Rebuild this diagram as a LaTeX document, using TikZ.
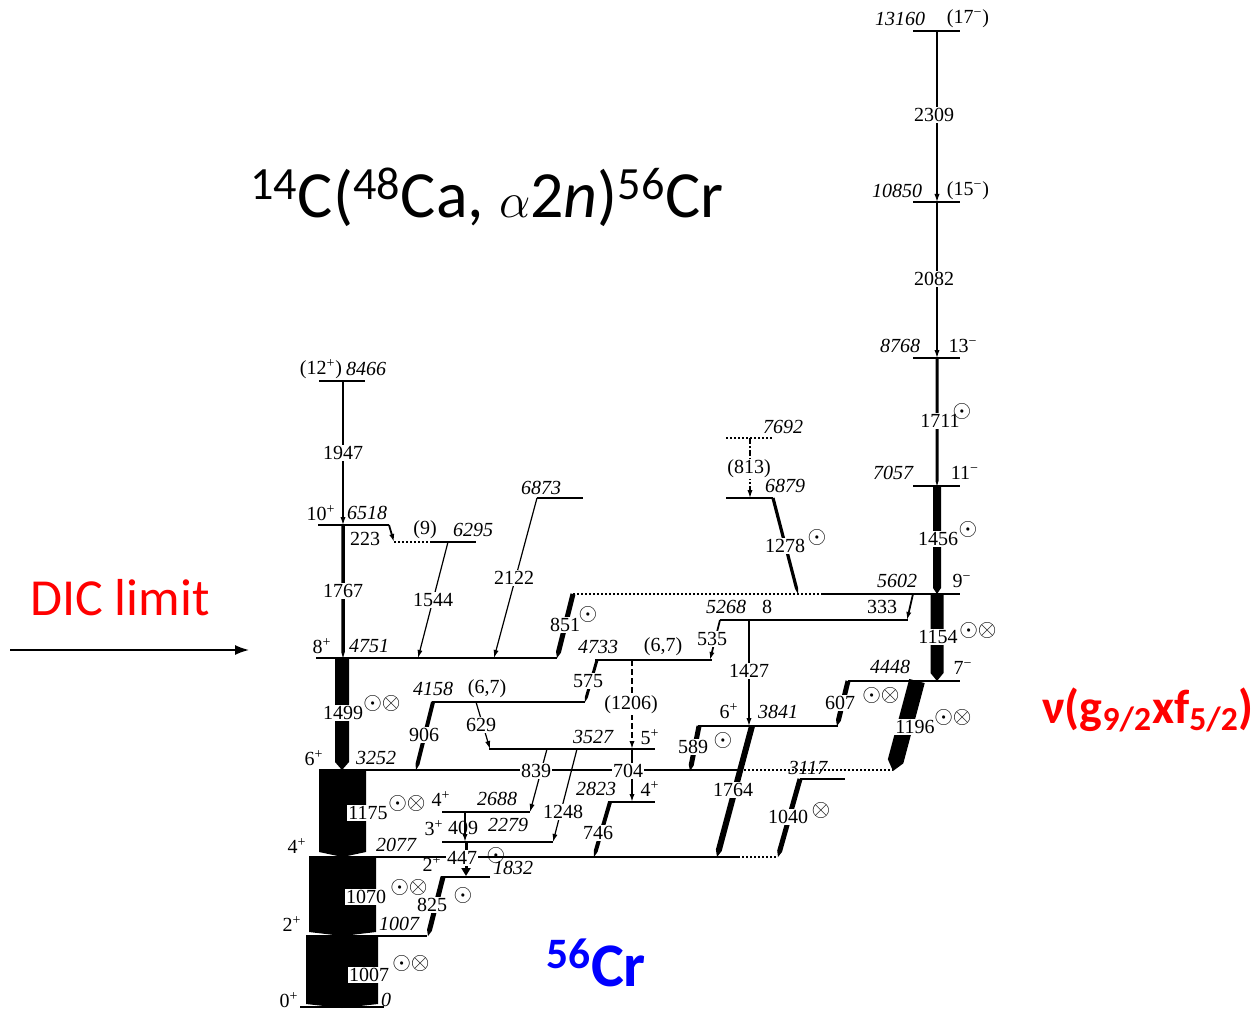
\documentclass[tikz,border=0pt]{standalone}
\usepackage{fontspec}
\setmainfont{Liberation Serif}
\newfontfamily\carl{Carlito}
\usetikzlibrary{calc,arrows.meta}
\newcommand\symO{$\odot$}
\newcommand\symX{$\otimes$}
\newcommand\symOX{$\mathord{\odot}\mathord{\otimes}$}
\newcommand\lvl[5][]{\coordinate (#2-l) at (#3,#5); \coordinate (#2-r) at (#4,#5); \draw[lv,#1] (#2-l) -- (#2-r);}
\newcommand\tpts[5]{\coordinate (#1a) at (#2,#3); \coordinate (#1b) at (#4,#5);}
\newcommand\gbar[4]{%
  \pgfmathsetmacro\hwid{#3*0.25}%
  \pgfmathsetmacro\hlen{#4*0.5}%
  \coordinate (tmpBp) at ($(#2)!\hlen pt!(#1)$);
  \fill ($(#1)!\hwid pt!90:(#2)$) -- ($(tmpBp)!\hwid pt!-90:(#1)$) -- (#2) -- ($(tmpBp)!\hwid pt!90:(#1)$) -- ($(#1)!\hwid pt!-90:(#2)$) -- cycle;}
\begin{document}
\begin{tikzpicture}[x=0.5pt,y=-0.5pt,
  lv/.style={line width=0.7pt},
  dotl/.style={line width=0.7pt,dash pattern=on 1pt off 1pt},
  en/.style={font=\itshape\fontsize{10}{12}\selectfont,inner sep=0.5pt},
  sp/.style={font=\fontsize{10}{12}\selectfont,inner sep=0.5pt},
  gl/.style={font=\fontsize{10}{12}\selectfont,fill=white,inner sep=0.6pt},
  sy/.style={font=\fontsize{11.5}{13}\selectfont,inner sep=0pt},
  thg/.style={line width=0.6pt,-{Latex[length=4pt,width=2.6pt]}},
  ]
\useasboundingbox (0,0) rectangle (1254,1011);
% ---------- levels
\lvl{L0}{300}{384}{1007}
\lvl{L1007}{306}{427}{936}
\lvl{L1832}{441}{490}{877}
\lvl{L2077}{309}{738}{857}
\lvl[dotl]{L2077d}{738}{778}{857}
\lvl{L2279}{442}{553}{842}
\lvl{L2688}{442}{530}{812}
\lvl{L2823}{608}{655}{802}
\lvl{L3117}{800}{845}{779}
\lvl{L3252}{319}{740}{770}
\lvl[dotl]{L3252d}{740}{893}{770}
\lvl{L3527}{489}{655}{749}
\lvl{L3841}{698}{838}{726}
\lvl{L4158}{432}{585}{702}
\lvl{L4448}{848}{960}{681}
\lvl{L4733}{595}{712}{660}
\lvl{L4751}{316}{557}{658}
\lvl{L5268}{720}{908}{620}
\lvl[dotl]{L5602d}{573}{823}{594}
\lvl{L5602}{823}{960}{594}
\lvl[dotl]{L6295d}{394}{430}{542}
\lvl{L6295}{430}{476}{542}
\lvl{L6518}{318}{389}{525}
\lvl{L6873}{537}{583}{498}
\lvl{L6879}{726}{773}{498}
\lvl[dotl]{L7692}{726}{773}{438}
\lvl{L7057}{913}{960}{486}
\lvl{L8466}{319}{365}{381}
\lvl{L8768}{913}{960}{358}
\lvl{L10850}{913}{960}{202}
\lvl{L13160}{913}{960}{31}
% ---------- transitions
\tpts{g1007}{342}{936}{342}{1008}\gbar{g1007a}{g1007b}{72}{4}
\tpts{g1070}{342.5}{857}{342.5}{936}\gbar{g1070a}{g1070b}{67}{4}
\tpts{g1175}{342.5}{770}{342.5}{857}\gbar{g1175a}{g1175b}{47}{5}
\tpts{g1499}{342}{658}{342}{770}\gbar{g1499a}{g1499b}{14}{8}
\tpts{g1767}{343}{525}{343}{658}\gbar{g1767a}{g1767b}{3.5}{6}
\tpts{g1947}{343}{381}{343}{525}\draw[thg] (g1947a) -- (g1947b);
\tpts{g223}{389}{525}{394}{542}\draw[thg,line width=0.9pt] (g223a) -- (g223b);
\tpts{g1544}{448}{542}{418}{658}\draw[thg] (g1544a) -- (g1544b);
\tpts{g2122}{537}{498}{494}{658}\draw[thg] (g2122a) -- (g2122b);
\tpts{g851}{573}{594}{557}{658}\gbar{g851a}{g851b}{5}{6}
\tpts{g906}{433}{702}{416}{770}\gbar{g906a}{g906b}{4}{6}
\tpts{g575}{597}{660}{585}{702}\gbar{g575a}{g575b}{3}{5}
\tpts{g629}{476}{702}{490}{749}\draw[thg] (g629a) -- (g629b);
\tpts{g1206}{632}{660}{632}{749}\draw[thg,line width=1.1pt,dash pattern=on 3pt off 1.5pt] (g1206a) -- (g1206b);
\tpts{g839}{547}{749}{530}{812}\draw[thg] (g839a) -- (g839b);
\tpts{g1248}{577}{749}{553}{842}\draw[thg] (g1248a) -- (g1248b);
\tpts{g704}{632}{749}{632}{802}\draw[thg,line width=1pt] (g704a) -- (g704b);
\tpts{g746}{610}{802}{594}{857}\gbar{g746a}{g746b}{4}{6}
\tpts{g409}{465}{812}{465}{842}\draw[thg,line width=0.9pt] (g409a) -- (g409b);
\tpts{g447}{466}{842}{466}{876}\draw[line width=1.5pt,-{Triangle[length=4pt,width=4.5pt]}] (g447a) -- (g447b);
\tpts{g825}{443}{877}{428}{936}\gbar{g825a}{g825b}{5}{6}
\tpts{g1427}{749}{620}{749}{726}\draw[thg] (g1427a) -- (g1427b);
\tpts{g535}{720}{620}{710}{660}\draw[thg,line width=0.9pt] (g535a) -- (g535b);
\tpts{g333}{913}{594}{907}{620}\draw[thg,line width=0.9pt] (g333a) -- (g333b);
\tpts{g1278}{773}{498}{798}{594}\gbar{g1278a}{g1278b}{3.2}{6}
\tpts{g813}{750}{438}{750}{498}\draw[thg,dash pattern=on 3pt off 1.2pt on 0.6pt off 1.2pt] (g813a) -- (g813b);
\tpts{g589}{699}{726}{690}{771}\gbar{g589a}{g589b}{5}{6}
\tpts{g1764}{752}{726}{717}{857}\gbar{g1764a}{g1764b}{6}{7}
\tpts{g607}{848}{681}{837}{726}\gbar{g607a}{g607b}{5}{6}
\tpts{g1196}{917}{681}{893}{771}\gbar{g1196a}{g1196b}{16}{10}
\tpts{g1040}{800}{779}{778}{857}\gbar{g1040a}{g1040b}{5}{6}
\tpts{g1154}{937}{594}{937}{681}\gbar{g1154a}{g1154b}{13}{8}
\tpts{g1456}{937}{486}{937}{594}\gbar{g1456a}{g1456b}{8}{6}
\tpts{g1711}{937}{358}{937}{486}\gbar{g1711a}{g1711b}{3}{5}
\tpts{g2082}{937}{202}{937}{358}\draw[thg] (g2082a) -- (g2082b);
\tpts{g2309}{937}{31}{937}{202}\draw[thg] (g2309a) -- (g2309b);
% ---------- left column labels
\node[sp] (s8466) at (321,369) {(12\textsuperscript{+})};
\node[en] (e8466) at (366,369) {8466};
\node[gl] (t1947) at (343,453) {1947};
\node[sp] (s6518) at (321,513) {10\textsuperscript{+}};
\node[en] (e6518) at (367,513) {6518};
\node[sp] (t223) at (365,539) {223};
\node[sp] (s6295) at (425,530) {(9)};
\node[en] (e6295) at (473,530) {6295};
\node[en] (e6873) at (541,488) {6873};
\node[gl] (t1767) at (343,591) {1767};
\node[gl] (t1544) at (433,600) {1544};
\node[gl] (t2122) at (514,578) {2122};
\node[gl] (t851) at (565,625) {851};
\node[sy] (p851) at (588,614) {\symO};
\node[sp] (s4751) at (322,646) {8\textsuperscript{+}};
\node[en] (e4751) at (369,646) {4751};
\node[gl] (t1499) at (343,713) {1499};
\node[sy] (p1499) at (382,703) {\symOX};
\node[en] (e4158) at (433,689) {4158};
\node[sp] (s4158) at (487,689) {(6,7)};
\node[gl] (t906) at (424,735) {906};
\node[gl] (t629) at (481,725) {629};
\node[gl] (t575) at (588,681) {575};
\node[en] (e4733) at (598,647) {4733};
\node[sp] (s4733) at (663,647) {(6,7)};
\node[gl] (t1206) at (631,705) {(1206)};
\node[en] (e3527) at (593,737) {3527};
\node[sp] (s3527) at (650,737) {5\textsuperscript{+}};
\node[gl] (t839) at (536,771) {839};
\node[gl] (t704) at (628,771) {704};
\node[en] (e2823) at (596,789) {2823};
\node[sp] (s2823) at (650,789) {4\textsuperscript{+}};
\node[gl] (t1248) at (563,812) {1248};
\node[gl] (t746) at (598,833) {746};
\node[sp] (s3252) at (314,758) {6\textsuperscript{+}};
\node[en] (e3252) at (376,758) {3252};
\node[gl] (t1175) at (368,813) {1175};
\node[sy] (p1175) at (407,803) {\symOX};
\node[sp] (s2688) at (441,799) {4\textsuperscript{+}};
\node[en] (e2688) at (497,799) {2688};
\node[sp] (s2279) at (434,828) {3\textsuperscript{+}};
\node[sp] (t409) at (463,828) {409};
\node[en] (e2279) at (508,825) {2279};
\node[sp] (s1832) at (432,864) {2\textsuperscript{+}};
\node[gl] (t447) at (462,858) {447};
\node[sy] (p447) at (496,855) {\symO};
\node[en] (e1832) at (513,868) {1832};
\node[sp] (s2077) at (297,846) {4\textsuperscript{+}};
\node[en] (e2077) at (396,845) {2077};
\node[gl] (t1070) at (366,897) {1070};
\node[sy] (p1070) at (409,887) {\symOX};
\node[gl] (t825) at (432,905) {825};
\node[sy] (p825) at (463,895) {\symO};
\node[sp] (s1007) at (292,924) {2\textsuperscript{+}};
\node[en] (e1007) at (399,924) {1007};
\node[gl] (t1007) at (369,975) {1007};
\node[sy] (p1007) at (411,963) {\symOX};
\node[sp] (s0) at (289,1000) {0\textsuperscript{+}};
\node[en] (e0) at (386,1000) {0};
% ---------- right part labels
\node[en] (e7692) at (783,427) {7692};
\node[gl] (t813) at (749,469) {(813)};
\node[en] (e6879) at (785,486) {6879};
\node[gl] (t1278) at (785,546) {1278};
\node[sy] (p1278) at (817,537) {\symO};
\node[en] (e5268) at (726,607) {5268};
\node[sp] (s5268) at (767,607) {8};
\node[gl] (t535) at (712,639) {535};
\node[gl] (t1427) at (749,671) {1427};
\node[sp] (t333) at (882,607) {333};
\node[en] (e5602) at (897,581) {5602};
\node[sp] (s5602) at (962,581) {9\textsuperscript{−}};
\node[sp] (s3841) at (729,711) {6\textsuperscript{+}};
\node[en] (e3841) at (778,712) {3841};
\node[gl] (t589) at (693,747) {589};
\node[sy] (p589) at (723,740) {\symO};
\node[gl] (t1764) at (733,790) {1764};
\node[en] (e3117) at (808,768) {3117};
\node[gl] (t1040) at (788,817) {1040};
\node[sy] (p1040) at (821,810) {\symX};
\node[en] (e4448) at (890,667) {4448};
\node[sp] (s4448) at (963,668) {7\textsuperscript{−}};
\node[gl] (t607) at (840,703) {607};
\node[sy] (p607) at (881,695) {\symOX};
\node[gl] (t1196) at (915,727) {1196};
\node[sy] (p1196) at (953,717) {\symOX};
\node[gl] (t1154) at (938,637) {1154};
\node[sy] (p1154) at (978,630) {\symOX};
\node[gl] (t1456) at (938,539) {1456};
\node[sy] (p1456) at (968,529) {\symO};
\node[en] (e7057) at (893,473) {7057};
\node[sp] (s7057) at (965,473) {11\textsuperscript{−}};
\node[gl] (t1711) at (940,421) {1711};
\node[sy] (p1711) at (962,411) {\symO};
\node[en] (e8768) at (900,346) {8768};
\node[sp] (s8768) at (963,346) {13\textsuperscript{−}};
\node[gl] (t2082) at (934,279) {2082};
\node[en] (e10850) at (897,191) {10850};
\node[sp] (s10850) at (968,191) {(15\textsuperscript{−})};
\node[gl] (t2309) at (934,115) {2309};
\node[en] (e13160) at (900,19) {13160};
\node[sp] (s13160) at (968,19) {(17\textsuperscript{−})};
% ---------- annotations
\node[font=\carl\fontsize{33}{40}\selectfont,inner sep=0pt] (title) at (487,197) {\textsuperscript{14}C(\textsuperscript{48}Ca, $\alpha$2\textit{n})\textsuperscript{56}Cr};
\node[font=\carl\fontsize{26}{30}\selectfont,text=red,inner sep=0pt] (dic) at (120,598) {DIC limit};
\coordinate (dicA) at (10,650);
\coordinate (dicB) at (249,650);
\draw[line width=0.8pt,-{Latex[length=7pt,width=5pt]}] (dicA) -- (dicB);
\node[font=\carl\bfseries\fontsize{31}{36}\selectfont,text=blue,inner sep=0pt] (cr) at (596,963) {\textsuperscript{56}Cr};
\node[font=\carl\bfseries\fontsize{24}{30}\selectfont,text=red,inner sep=0pt] (nu) at (1148,710) {ν(g\textsubscript{9/2}xf\textsubscript{5/2})};
\end{tikzpicture}
\end{document}
